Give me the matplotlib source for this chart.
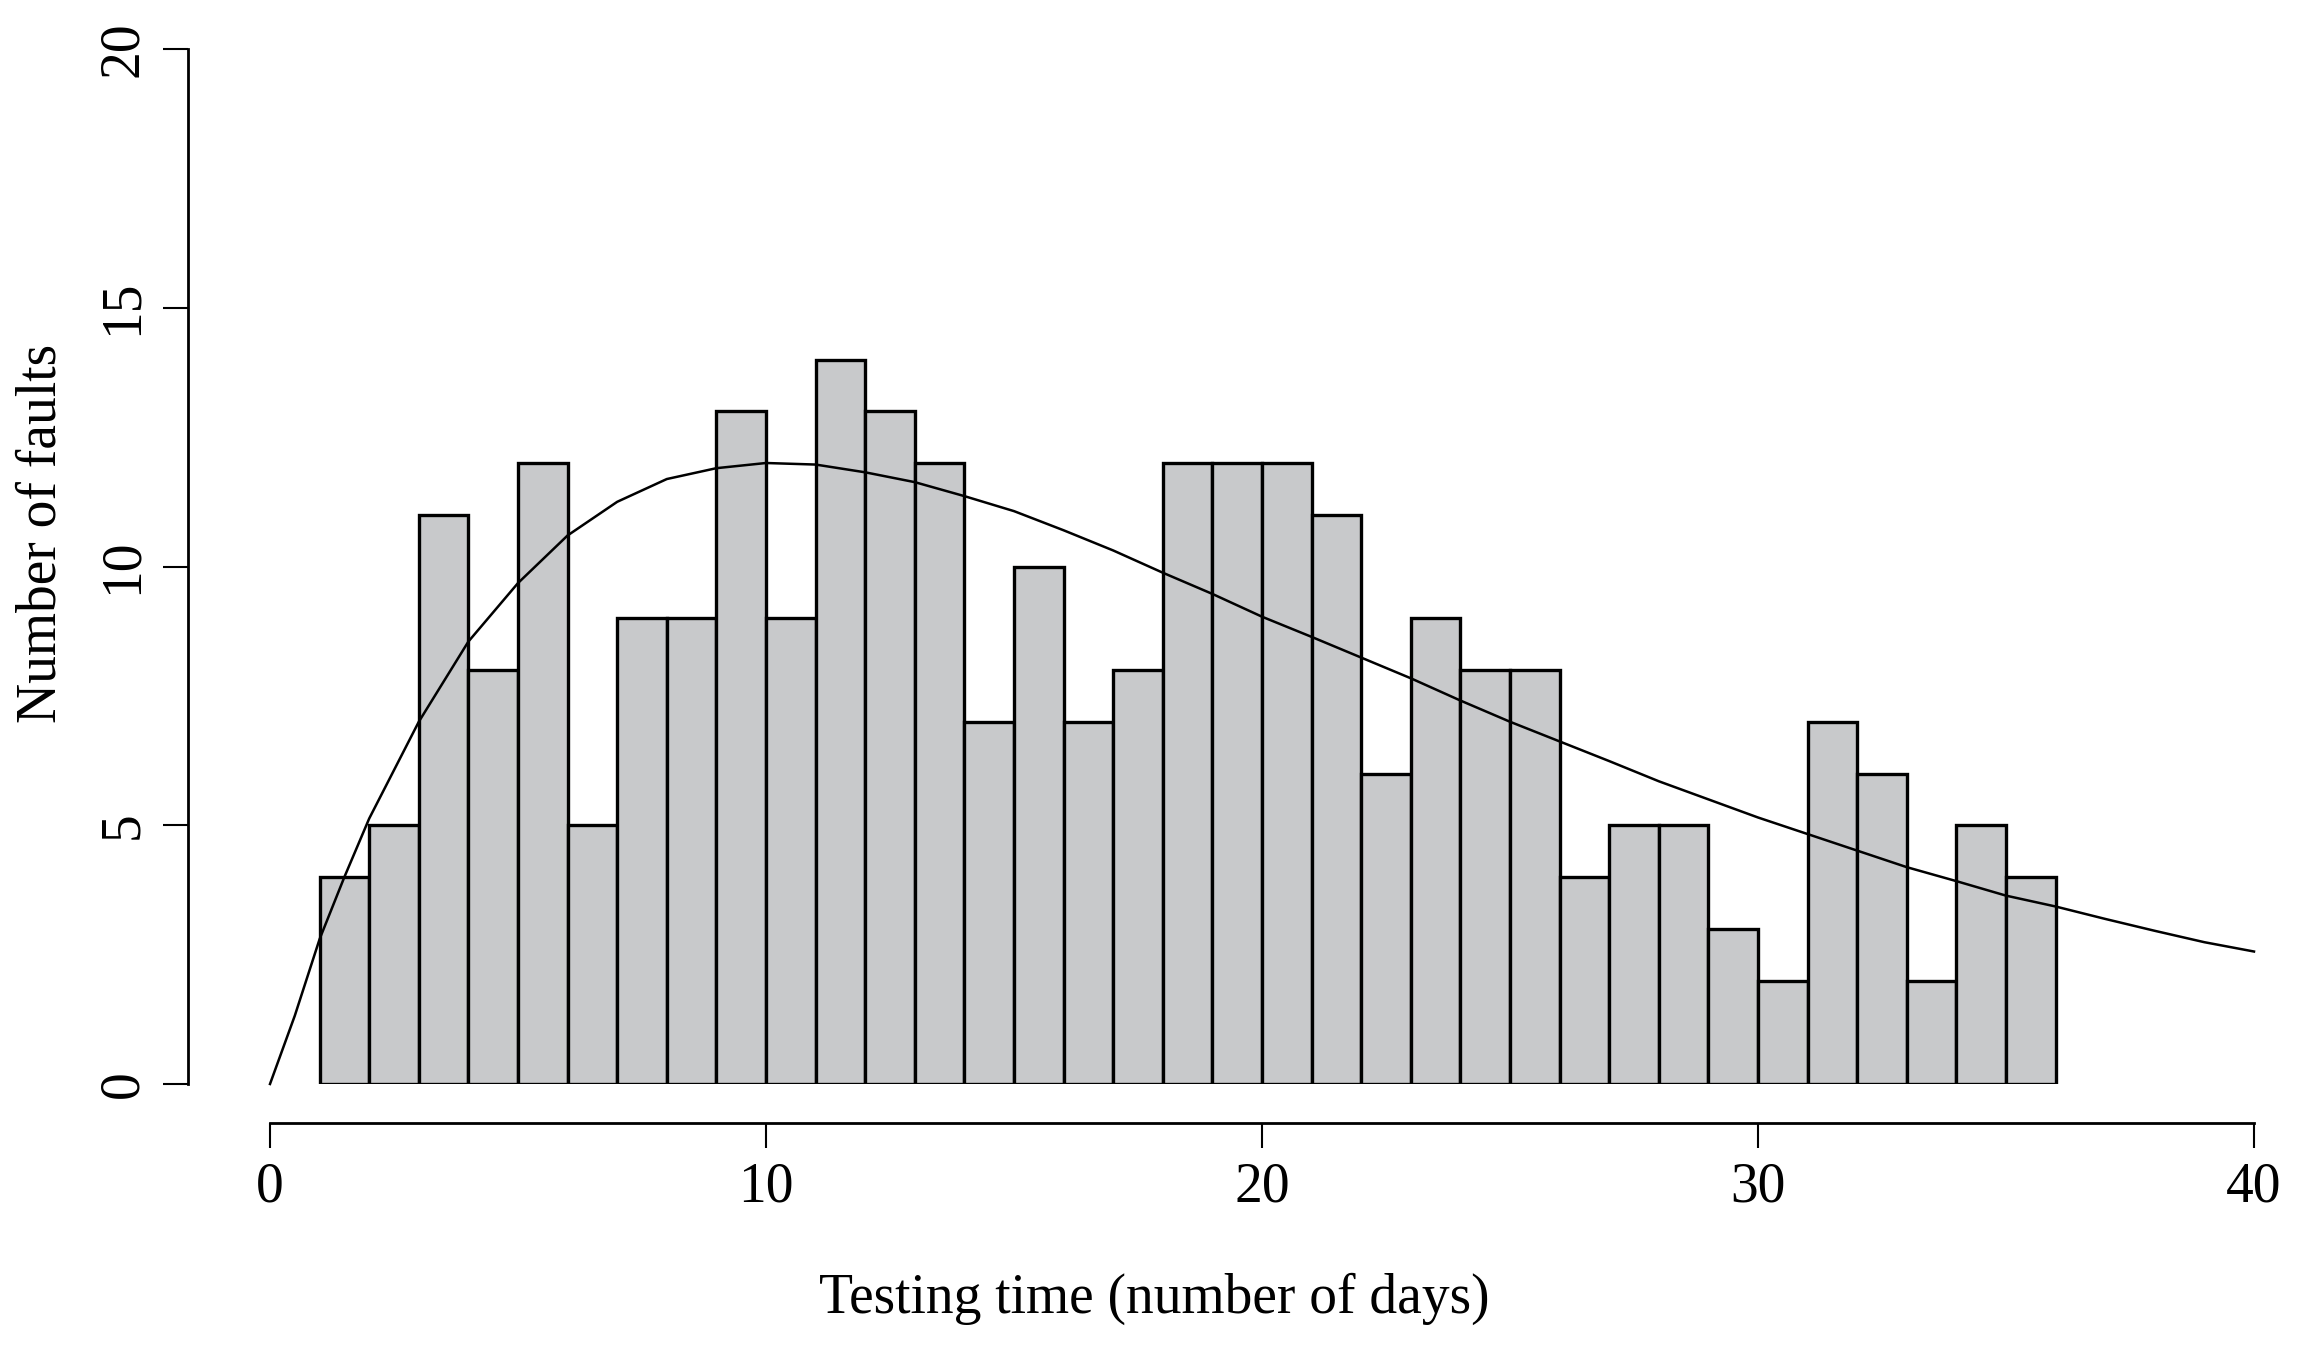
import matplotlib
matplotlib.use("Agg")
import matplotlib.pyplot as plt

# Histogram data: day bins (left edges) and number of faults
bin_left = list(range(1, 36))
faults = [4, 5, 11, 8, 12, 5, 9, 9, 13, 9, 14, 13, 12, 7, 10, 7, 8, 12, 12, 12,
          11, 6, 9, 8, 8, 4, 5, 5, 3, 2, 7, 6, 2, 5, 4]

# Fitted curve
curve_x = [0, 0.5, 1, 1.5, 2, 3, 4, 5, 6, 7, 8, 9, 10, 11, 12, 13, 14, 15, 16, 17,
           18, 19, 20, 21, 22, 23, 24, 25, 26, 27, 28, 29, 30, 31, 32, 33, 34, 35,
           36, 37, 38, 39, 40]
curve_y = [0, 1.32, 2.8, 4.0, 5.13, 7.0, 8.55, 9.68, 10.6, 11.25, 11.69, 11.9, 12.0,
           11.97, 11.82, 11.63, 11.36, 11.07, 10.7, 10.31, 9.88, 9.47, 9.03, 8.64,
           8.24, 7.84, 7.41, 7.0, 6.62, 6.24, 5.85, 5.5, 5.15, 4.83, 4.51, 4.19,
           3.92, 3.64, 3.43, 3.19, 2.96, 2.74, 2.56]

xticks = [0, 10, 20, 30, 40]
yticks = [0, 5, 10, 15, 20]

W, H, DPI = 2302, 1346, 100
fig = plt.figure(figsize=(W / DPI, H / DPI), dpi=DPI)
plt.rcParams['font.family'] = ['Liberation Serif', 'DejaVu Serif']

x0, x1 = 270, 2254
y0, y1 = 1084, 49
ax = fig.add_axes([x0 / W, 1 - y0 / H, (x1 - x0) / W, (y0 - y1) / H])
ax.set_xlim(0, 40)
ax.set_ylim(0, 20)

ax.bar(bin_left, faults, width=1, align='edge', color='#c8c9cb',
       edgecolor='black', linewidth=2.4, zorder=2)
ax.plot(curve_x, curve_y, color='black', linewidth=1.8, zorder=3,
        clip_on=False)

for s in ['top', 'right']:
    ax.spines[s].set_visible(False)
px = 72 / DPI
ax.spines['left'].set_position(('outward', 82 * px))
ax.spines['bottom'].set_position(('outward', 39 * px))
ax.spines['left'].set_bounds(0, 20)
ax.spines['bottom'].set_bounds(0, 40)
ax.spines['left'].set_linewidth(2.0)
ax.spines['bottom'].set_linewidth(2.0)

ax.set_xticks(xticks)
ax.set_yticks(yticks)
ax.set_xticklabels([str(v) for v in xticks], fontsize=40)
ax.set_yticklabels([str(v) for v in yticks], fontsize=40, rotation=90,
                   va='center')
ax.tick_params(axis='both', length=25 * px, width=1.5, pad=10, color='black')

fig.text(1154 / W, 1 - 1299 / H, 'Testing time (number of days)', fontsize=40,
         ha='center', va='center')
fig.text(42 / W, 1 - 533 / H, 'Number of faults', fontsize=40, rotation=90,
         ha='center', va='center')

fig.savefig('out.png', dpi=DPI)
